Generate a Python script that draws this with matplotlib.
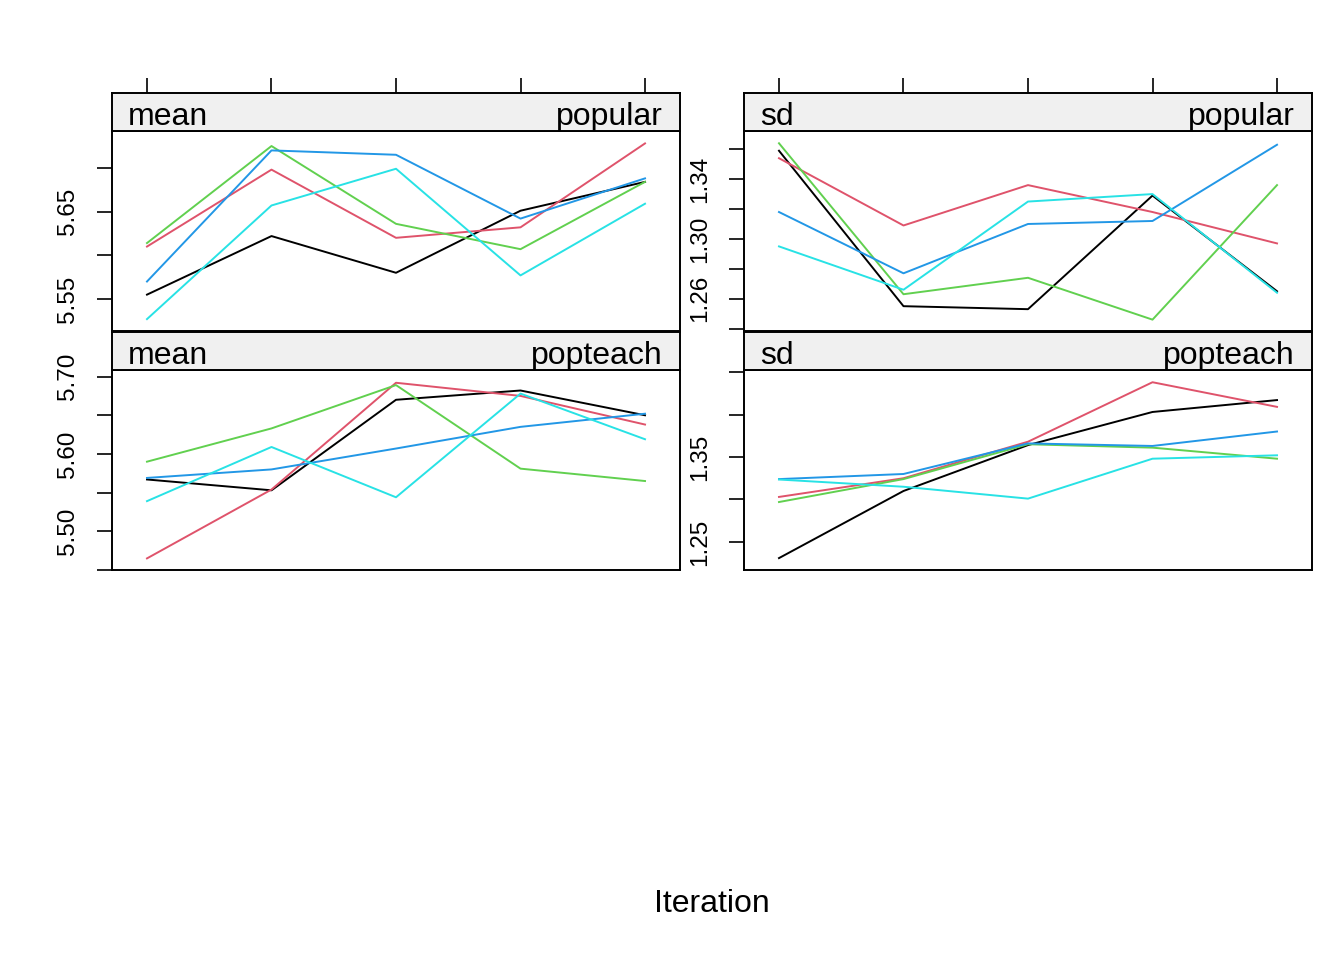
import matplotlib
matplotlib.use("Agg")
import matplotlib.pyplot as plt

plt.rcParams['font.family'] = ['Liberation Sans', 'DejaVu Sans']

# iterations et couleurs des chaines (palette R)
iterations = [1, 2, 3, 4, 5]
chain_colors = ['#000000', '#DF536B', '#61D04F', '#2297E6', '#28E2E5']

# valeurs : une liste par chaine
mean_popular = [
    [5.555, 5.622, 5.580, 5.651, 5.684],
    [5.610, 5.698, 5.620, 5.632, 5.728],
    [5.614, 5.725, 5.636, 5.607, 5.684],
    [5.570, 5.720, 5.715, 5.642, 5.688],
    [5.527, 5.657, 5.699, 5.577, 5.659],
]
sd_popular = [
    [1.359, 1.255, 1.253, 1.329, 1.265],
    [1.354, 1.309, 1.336, 1.318, 1.297],
    [1.364, 1.263, 1.274, 1.246, 1.336],
    [1.318, 1.277, 1.310, 1.312, 1.363],
    [1.295, 1.266, 1.325, 1.330, 1.264],
]
mean_popteach = [
    [5.567, 5.553, 5.670, 5.682, 5.650],
    [5.465, 5.554, 5.692, 5.675, 5.638],
    [5.590, 5.633, 5.689, 5.581, 5.565],
    [5.569, 5.580, 5.607, 5.635, 5.652],
    [5.539, 5.609, 5.544, 5.678, 5.619],
]
sd_popteach = [
    [1.231, 1.310, 1.364, 1.403, 1.417],
    [1.303, 1.325, 1.368, 1.438, 1.409],
    [1.297, 1.324, 1.365, 1.361, 1.348],
    [1.324, 1.330, 1.366, 1.363, 1.380],
    [1.3235, 1.315, 1.301, 1.348, 1.352],
]

# panneaux : (donnees, stat, variable, ylim, ticks, labels, gauche px, haut px)
panels = [
    (mean_popular, 'mean', 'popular', (5.5134, 5.7422),
     [5.55, 5.60, 5.65, 5.70], ['5.55', '', '5.65', ''], 112, 131),
    (sd_popular, 'sd', 'popular', (1.2384, 1.3722),
     [1.24, 1.26, 1.28, 1.30, 1.32, 1.34, 1.36],
     ['', '1.26', '', '1.30', '', '1.34', ''], 744, 131),
    (mean_popteach, 'mean', 'popteach', (5.4501, 5.7085),
     [5.45, 5.50, 5.55, 5.60, 5.65, 5.70],
     ['', '5.50', '', '5.60', '', '5.70'], 112, 370),
    (sd_popteach, 'sd', 'popteach', (1.217, 1.4524),
     [1.25, 1.30, 1.35, 1.40, 1.45], ['1.25', '', '1.35', '', ''], 744, 370),
]

W, H = 1344, 960
pw, ph, sh = 568, 200, 38.5
xlim = (0.719, 5.281)

fig = plt.figure(figsize=(W / 100, H / 100), dpi=100)

for data, stat, var, ylim, ticks, labels, left, top in panels:
    ax = fig.add_axes([left / W, 1 - (top + ph) / H, pw / W, ph / H])
    for vals, col in zip(data, chain_colors):
        ax.plot(iterations, vals, color=col, lw=1.4)
    ax.set_xlim(xlim)
    ax.set_ylim(ylim)
    ax.set_xticks([])
    ax.set_yticks(ticks)
    ax.set_yticklabels(labels, rotation=90, va='center', fontsize=17.5)
    ax.tick_params(axis='y', direction='out', length=10.8, width=1.2, pad=13)
    for s in ax.spines.values():
        s.set_linewidth(1.4)

    # bandeau au-dessus du panneau
    st = fig.add_axes([left / W, 1 - top / H, pw / W, sh / H])
    st.set_facecolor('#F0F0F0')
    st.set_xlim(xlim)
    st.set_yticks([])
    if top < 200:
        st.xaxis.tick_top()
        st.set_xticks(iterations)
        st.set_xticklabels([])
        st.tick_params(axis='x', direction='out', length=10.8, width=1.2)
    else:
        st.set_xticks([])
    for s in st.spines.values():
        s.set_linewidth(1.4)
    st.text(16 / pw, 0.16, stat, transform=st.transAxes, ha='left',
            va='baseline', fontsize=23)
    st.text(1 - 17 / pw, 0.16, var, transform=st.transAxes, ha='right',
            va='baseline', fontsize=23)

fig.text(712 / W, 1 - 904 / H, 'Iteration', ha='center', va='center', fontsize=23)

fig.savefig('out.png', dpi=100)
